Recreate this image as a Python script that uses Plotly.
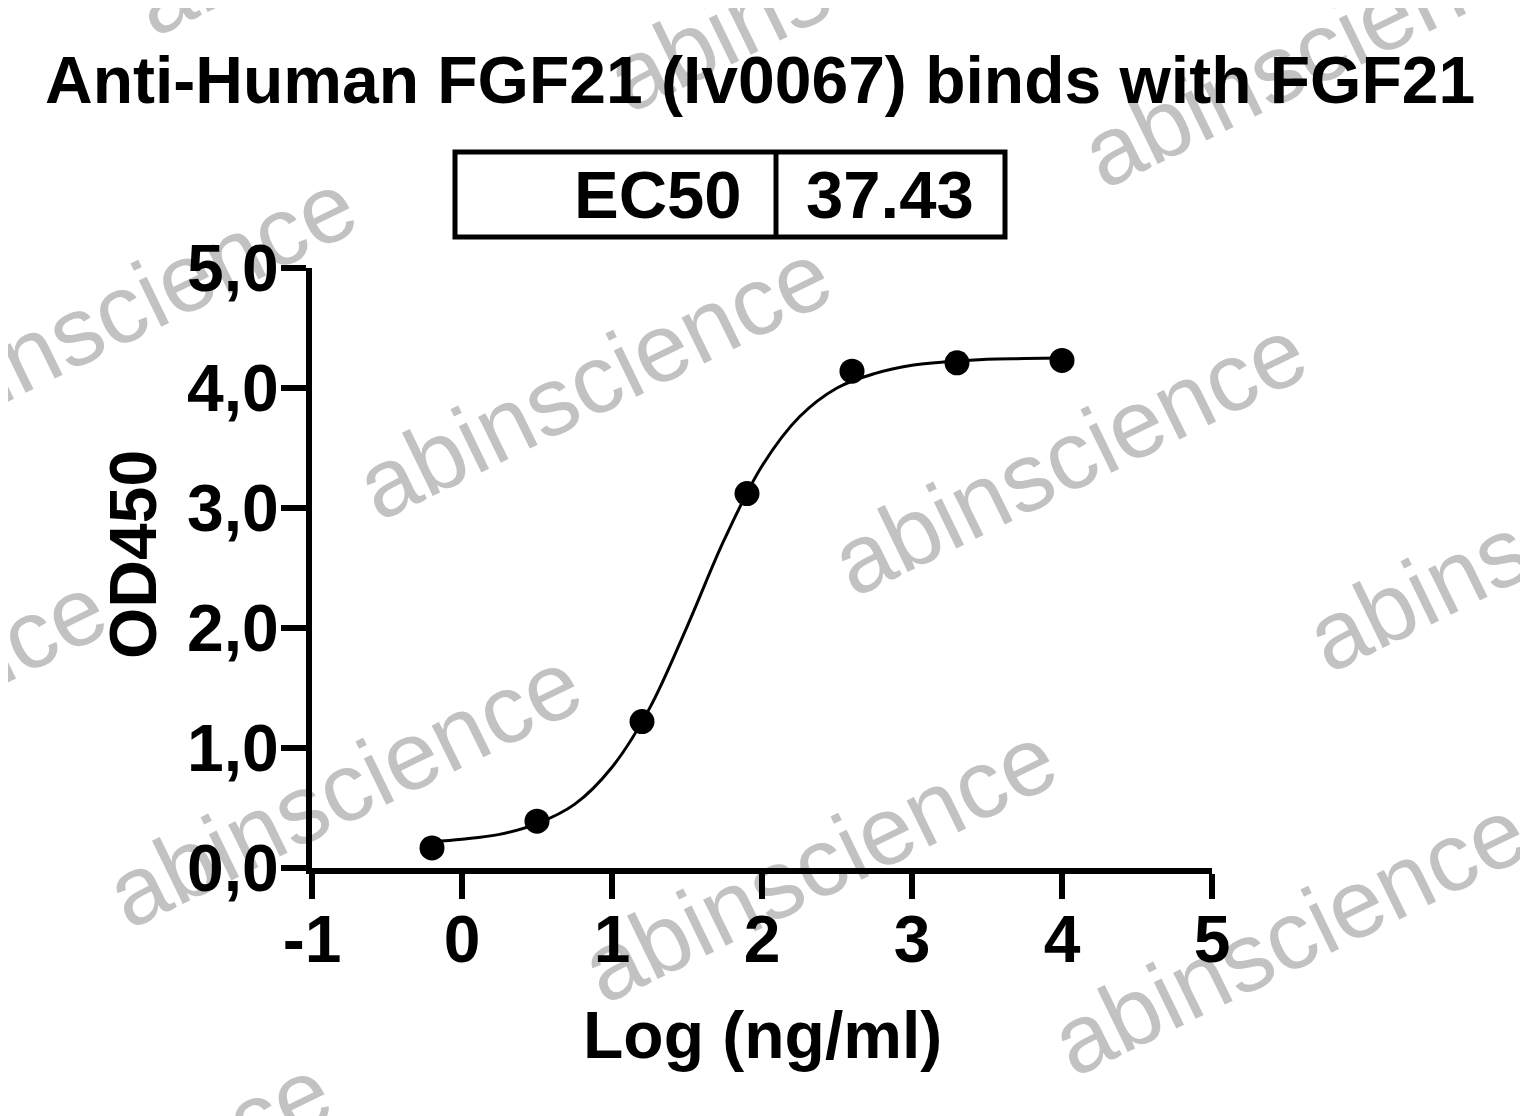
import plotly.graph_objects as go

# ---------------- data ----------------
log_conc = [-0.2, 0.5, 1.2, 1.9, 2.6, 3.3, 4.0]
od450 = [0.167, 0.39, 1.22, 3.12, 4.14, 4.21, 4.23]

# fitted curve
fit_x = [-0.2, 0.0, 0.25, 0.5, 0.75, 1.0, 1.25, 1.5, 1.75, 2.0, 2.25, 2.5, 2.75, 3.0, 3.25, 3.5, 3.75, 4.0]
fit_y = [0.22, 0.24, 0.28, 0.37, 0.53, 0.84, 1.33, 2.01, 2.74, 3.35, 3.76, 4.00, 4.12, 4.19, 4.22, 4.24, 4.245, 4.25]

x_tick_vals = [-1, 0, 1, 2, 3, 4, 5]
x_tick_text = ["-1", "0", "1", "2", "3", "4", "5"]
y_tick_vals = [0, 1, 2, 3, 4, 5]
y_tick_text = ["0,0", "1,0", "2,0", "3,0", "4,0", "5,0"]

title_text = "Anti-Human FGF21 (Iv0067) binds with FGF21"
ec50_label = "EC50"
ec50_value = "37.43"
x_title = "Log (ng/ml)"
y_title = "OD450"
watermark = "abinscience"

# ---------------- layout helpers ----------------
OFF = 8  # page body margin
W, H = 1528 - OFF, 1116 - OFF
L, R, T, B = 312, 1212, 268, 868  # plot area in window pixels
FONT = "Liberation Sans, Arial, sans-serif"


def px(x):
    return (x - L) / (R - L)


def py(y):
    return (B - y) / (B - T)


fig = go.Figure()

fig.add_trace(go.Scatter(
    x=fit_x, y=fit_y, mode="lines",
    line=dict(color="black", width=3, shape="spline", smoothing=1.0),
    hoverinfo="skip", showlegend=False,
))
fig.add_trace(go.Scatter(
    x=log_conc, y=od450, mode="markers",
    marker=dict(color="black", size=25),
    showlegend=False,
))

# watermarks (behind everything)
wm_centers = [
    (365, -112), (840, -36), (1315, 40),
    (115, 302), (590, 372), (1065, 448), (1540, 524),
    (-135, 705), (340, 780), (815, 855), (1285, 928),
    (90, 1188), (565, 1263),
]
shapes = []
for cx, cy in wm_centers:
    shapes.append(dict(
        type="rect", xref="paper", yref="paper",
        x0=px(cx - 1), x1=px(cx + 1), y0=py(cy + 1), y1=py(cy - 1),
        line=dict(width=0), fillcolor="rgba(0,0,0,0)", layer="below",
        label=dict(text=watermark, textangle=-26, textposition="middle center",
                   font=dict(family=FONT, size=97, color="#c2c2c2")),
    ))

# EC50 table box
shapes.append(dict(type="rect", xref="paper", yref="paper",
                   x0=px(455), x1=px(1005), y0=py(237), y1=py(152),
                   line=dict(color="black", width=5), layer="above"))
shapes.append(dict(type="line", xref="paper", yref="paper",
                   x0=px(776), x1=px(776), y0=py(237), y1=py(152),
                   line=dict(color="black", width=5), layer="above"))

annotations = [
    dict(text=f"<b>{title_text}</b>", x=px(760), y=py(80), xref="paper", yref="paper",
         showarrow=False, xanchor="center", yanchor="middle",
         font=dict(family=FONT, size=66, color="black")),
    dict(text=f"<b>{ec50_label}</b>", x=px(744), y=py(194), xref="paper", yref="paper",
         showarrow=False, xanchor="right", yanchor="middle",
         font=dict(family=FONT, size=67, color="black")),
    dict(text=f"<b>{ec50_value}</b>", x=px(890), y=py(194), xref="paper", yref="paper",
         showarrow=False, xanchor="center", yanchor="middle",
         font=dict(family=FONT, size=67, color="black")),
    dict(text=f"<b>{x_title}</b>", x=px(762), y=py(1035), xref="paper", yref="paper",
         showarrow=False, xanchor="center", yanchor="middle",
         font=dict(family=FONT, size=66, color="black")),
    dict(text=f"<b>{y_title}</b>", x=px(133), y=py(555), xref="paper", yref="paper",
         showarrow=False, xanchor="center", yanchor="middle", textangle=-90,
         font=dict(family=FONT, size=66, color="black")),
]

axis_common = dict(
    showgrid=False, zeroline=False, showline=True, linecolor="black", linewidth=6,
    ticks="outside", ticklen=25, tickwidth=6, tickcolor="black",
    tickfont=dict(family=FONT, size=66, color="black", weight="bold"),
    fixedrange=True,
)

fig.update_layout(
    width=W, height=H,
    margin=dict(l=L - OFF, r=1528 - R, t=T - OFF, b=1116 - B, pad=0),
    paper_bgcolor="white", plot_bgcolor="white",
    xaxis=dict(range=[-1, 5], tickvals=x_tick_vals, ticktext=x_tick_text,
               ticklabelstandoff=-16, **axis_common),
    yaxis=dict(range=[0, 5], tickvals=y_tick_vals, ticktext=y_tick_text,
               ticklabelstandoff=-11, **axis_common),
    shapes=shapes, annotations=annotations,
    showlegend=False,
)
fig.update_traces(cliponaxis=False)

fig.write_html("out.html")
